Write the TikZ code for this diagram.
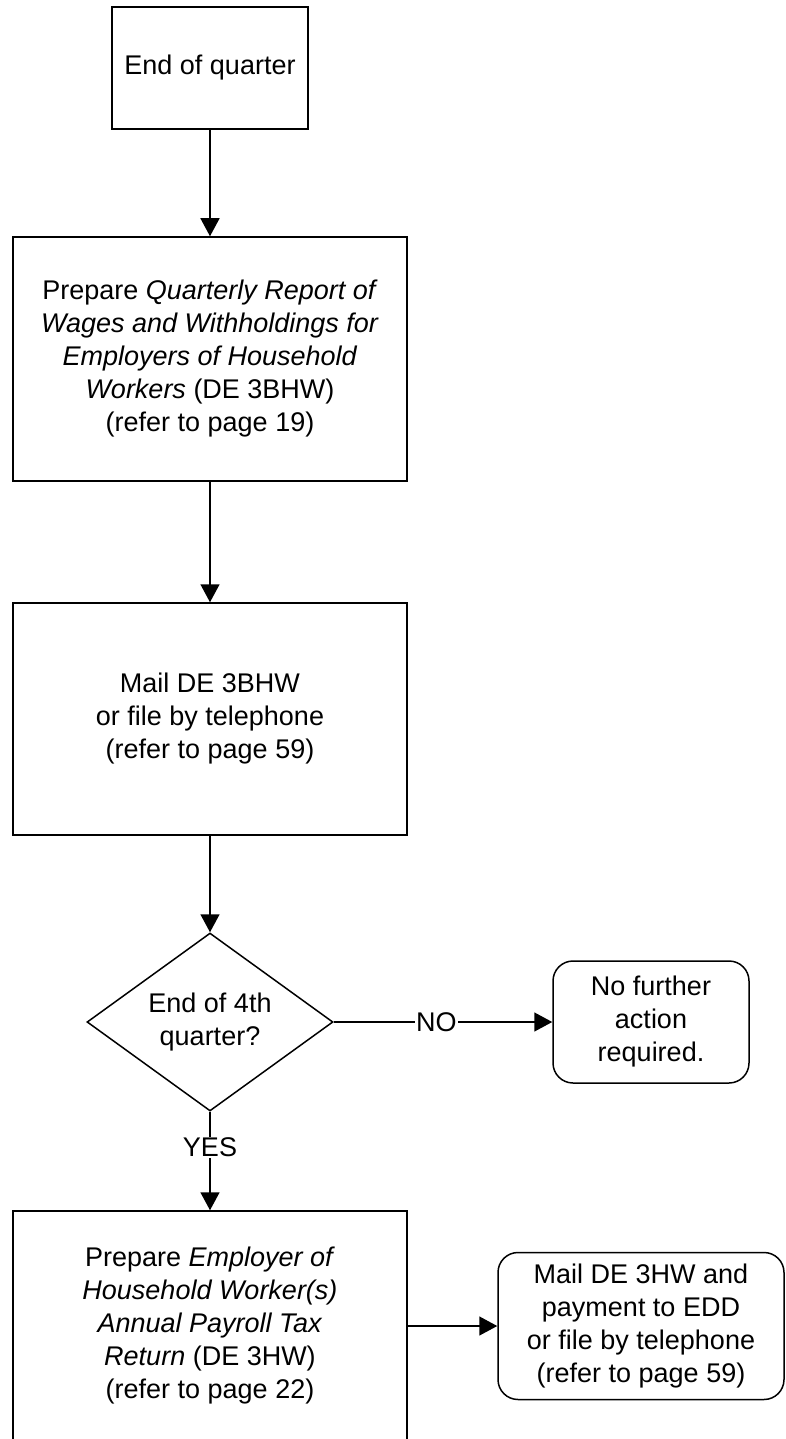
\documentclass[tikz,border=0pt]{standalone}
\usepackage{fontspec}
\setmainfont{Liberation Sans}
\usetikzlibrary{shapes,arrows,arrows.meta,calc}

\begin{document}
\begin{tikzpicture}
  [
    x=1pt, y=-1pt, line width=1.5pt,
    font=\fontsize{27}{33}\selectfont,
    block/.style =
      {draw, rectangle, align=center, minimum width=394pt, minimum height=232pt},
    small/.style =
      {draw, rectangle, align=center, minimum width=196pt, minimum height=122pt},
    choice/.style =
      {draw, diamond, align=center, aspect=1.38, inner sep=0pt,
       minimum width=246pt, minimum height=178pt},
    term/.style =
      {draw, rectangle, rounded corners=20pt, align=center},
    flow/.style =
      {->, >={Triangle[length=18pt, width=19pt]}},
    lbl/.style =
      {fill=white, inner sep=1pt}
  ]
  \useasboundingbox (0,0) rectangle (786,1439);

  \node [small] at (210,68)   (q) {End of quarter};
  \node [block, minimum height=244pt] at (210,359) (p)
    {Prepare \textit{Quarterly Report of}\\
     \textit{Wages and Withholdings for}\\
     \textit{Employers of Household}\\
     \textit{Workers} (DE 3BHW)\\
     (refer to page 19)};
  \node [block] at (210,719)  (m)
    {Mail DE 3BHW\\ or file by telephone\\ (refer to page 59)};
  \node [choice] at (210,1022) (f) {End of 4th\\ quarter?};
  \node [term, minimum width=196pt, minimum height=122pt] at (651,1022) (n)
    {No further\\ action\\ required.};
  \node [block, minimum height=230pt] at (210,1326) (r)
    {Prepare \textit{Employer of}\\
     \textit{Household Worker(s)}\\
     \textit{Annual Payroll Tax}\\
     \textit{Return} (DE 3HW)\\
     (refer to page 22)};
  \node [term, minimum width=286pt, minimum height=147pt] at (641,1326) (e)
    {Mail DE 3HW and\\ payment to EDD\\ or file by telephone\\ (refer to page 59)};

  \draw[flow] (q.south) -- (p.north);
  \draw[flow] (p.south) -- (m.north);
  \draw[flow] (m.south) -- (f.north);
  \draw[flow] (f.east)  -- node[lbl, pos=0.47] {NO}  (n.west);
  \draw[flow] (f.south) -- node[lbl, pos=0.36] {YES} (r.north);
  \draw[flow] (r.east)  -- (e.west);

\end{tikzpicture}
\end{document}
